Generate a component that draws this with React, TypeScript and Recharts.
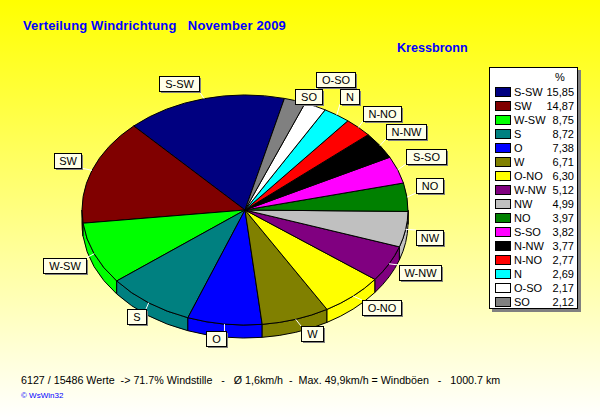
import React from 'react';
import { PieChart, Pie } from 'recharts';

const directions = ['S-SW', 'SW', 'W-SW', 'S', 'O', 'W', 'O-NO', 'W-NW', 'NW', 'NO', 'S-SO', 'N-NW', 'N-NO', 'N', 'O-SO', 'SO'];
const shares = [15.85, 14.87, 8.75, 8.72, 7.38, 6.71, 6.3, 5.12, 4.99, 3.97, 3.82, 3.77, 2.77, 2.69, 2.17, 2.12];
const colors = ['#000080', '#800000', '#00ff00', '#008080', '#0000ff', '#808000', '#ffff00', '#800080', '#c0c0c0', '#008000', '#ff00ff', '#000000', '#ff0000', '#00ffff', '#ffffff', '#808080'];

// label boxes sit where the original program put them: left, top, width
const labelBoxes = [
  [159, 76, 40], [54, 153, 27], [43, 258, 43], [127, 309, 19], [206, 331, 20], [301, 326, 22],
  [362, 300, 39], [399, 265, 42], [416, 230, 27], [416, 178, 27], [406, 149, 40], [386, 124, 40],
  [363, 106, 38], [340, 89, 19], [316, 72, 39], [295, 89, 27],
];

const pieData = directions.map((name, i) => ({ name, value: shares[i], fill: colors[i], index: i }));

const CX = 245;
const CY = 210;
const RX = 163;
const RY = 115;
const DEPTH = 13;
const FONT = 'Arial, "Liberation Sans", sans-serif';

const px = (a: number) => CX + RX * Math.cos((a * Math.PI) / 180);
const py = (a: number, dy = 0) => CY - RY * Math.sin((a * Math.PI) / 180) + dy;

const TopSlice = (props: any) => {
  const { startAngle, endAngle, fill } = props;
  const large = Math.abs(endAngle - startAngle) > 180 ? 1 : 0;
  const d = `M${CX},${CY}L${px(startAngle)},${py(startAngle)}A${RX},${RY} 0 ${large} 0 ${px(endAngle)},${py(endAngle)}Z`;
  return <path d={d} fill={fill} stroke="#000" strokeWidth={1} />;
};

// side wall only shows on the lower half of the ellipse
const WallSlice = (props: any) => {
  const { startAngle, endAngle, fill } = props;
  const a = Math.max(startAngle, 180);
  const b = Math.min(endAngle, 360);
  if (b <= a) return <g />;
  const d = `M${px(a)},${py(a)}A${RX},${RY} 0 0 0 ${px(b)},${py(b)}L${px(b)},${py(b, DEPTH)}A${RX},${RY} 0 0 1 ${px(a)},${py(a, DEPTH)}Z`;
  return <path d={d} fill={fill} stroke="#000" strokeWidth={1} />;
};

const BoxLabel = (props: any) => {
  const { midAngle, name, index } = props;
  const [left, top, width] = labelBoxes[index];
  const height = 15;
  const x0 = px(midAngle);
  const y0 = py(midAngle);
  const x1 = Math.min(Math.max(x0, left), left + width);
  const y1 = Math.min(Math.max(y0, top), top + height);
  return (
    <g>
      <line x1={x0} y1={y0} x2={x1} y2={y1} stroke="#fff" strokeWidth={1} />
      <rect x={left + 2} y={top + 2} width={width} height={height} fill="#808080" />
      <rect x={left + 0.5} y={top + 0.5} width={width} height={height} fill="#ffffe8" stroke="#000" strokeWidth={1} />
      <text x={left + width / 2 + 0.5} y={top + 12} textAnchor="middle" fontSize={11} fontFamily={FONT} fill="#000">
        {name}
      </text>
    </g>
  );
};

const textStyle: React.CSSProperties = { position: 'absolute', fontFamily: FONT, whiteSpace: 'pre', lineHeight: 1 };

const WindLegend = () => (
  <div style={{ position: 'absolute', left: 489, top: 67, width: 87, height: 240, background: '#fff', border: '1px solid #000', boxShadow: '3px 3px 0 #808080', fontFamily: FONT, fontSize: 11 }}>
    <div style={{ ...textStyle, left: 65, top: 4 }}>%</div>
    {directions.map((name, i) => (
      <div key={name}>
        <div style={{ position: 'absolute', left: 5, top: 19 + i * 14, width: 14, height: 8, background: colors[i], border: '1px solid #000' }} />
        <div style={{ ...textStyle, left: 24, top: 19 + i * 14 }}>{name}</div>
        <div style={{ ...textStyle, right: 3, top: 19 + i * 14 }}>{shares[i].toFixed(2).replace('.', ',')}</div>
      </div>
    ))}
  </div>
);

export default function App() {
  return (
    <div style={{ position: 'absolute', left: 0, top: 0, width: 600, height: 418, overflow: 'hidden', background: 'linear-gradient(#ffff00, #ffffff)' }}>
      <div style={{ ...textStyle, left: 23, top: 19, fontSize: 13, fontWeight: 700, color: '#0000ff', letterSpacing: 0.15 }}>
        {'Verteilung Windrichtung   November 2009'}
      </div>
      <div style={{ ...textStyle, left: 397, top: 42, fontSize: 12.6, fontWeight: 700, color: '#0000ff' }}>Kressbronn</div>
      <PieChart width={600} height={418} style={{ position: 'absolute', left: 0, top: 0 }}>
        <Pie data={pieData} dataKey="value" nameKey="name" cx={CX} cy={CY} innerRadius={0} outerRadius={RX} startAngle={76} endAngle={436} stroke="none" shape={WallSlice} isAnimationActive={false} />
        <Pie data={pieData} dataKey="value" nameKey="name" cx={CX} cy={CY} innerRadius={0} outerRadius={RX} startAngle={76} endAngle={436} stroke="none" shape={TopSlice} label={BoxLabel} labelLine={false} isAnimationActive={false} />
      </PieChart>
      <WindLegend />
      <div style={{ ...textStyle, left: 21, top: 375, fontSize: 10.7, color: '#000' }}>
        {'6127 / 15486 Werte  -> 71.7% Windstille   -   Ø 1,6km/h  -  Max. 49,9km/h = Windböen   -   1000.7 km'}
      </div>
      <div style={{ ...textStyle, left: 21, top: 392, fontSize: 8, color: '#0000ff' }}>© WsWin32</div>
    </div>
  );
}
